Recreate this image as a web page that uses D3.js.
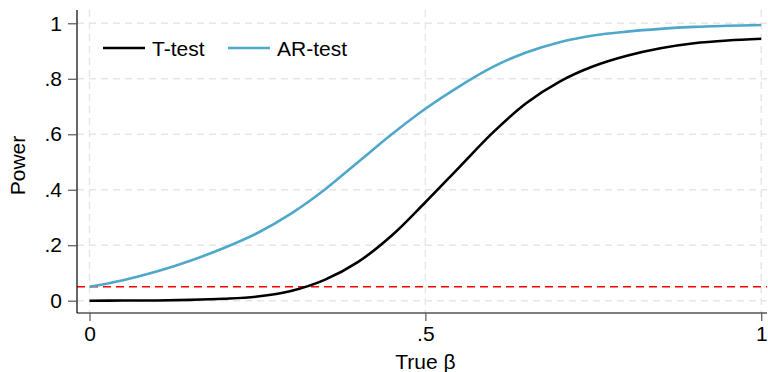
<!DOCTYPE html>
<html>
<head>
<meta charset="utf-8">
<script src="https://cdn.jsdelivr.net/npm/d3@7/dist/d3.min.js"></script>
<style>
  html, body { margin: 0; padding: 0; background: #fff; }
  svg { display: block; font-family: Arial, "Liberation Sans", Helvetica, sans-serif; }
</style>
</head>
<body>
<svg id="chart" width="768" height="372"></svg>
<script>
// True beta grid and rejection rates of each test
const beta = [0, 0.05, 0.10, 0.15, 0.20, 0.25, 0.30, 0.35, 0.40, 0.45, 0.50,
              0.55, 0.60, 0.65, 0.70, 0.75, 0.80, 0.85, 0.90, 0.95, 1.00];
const tTest = [0, 0.0005, 0.001, 0.003, 0.007, 0.015, 0.035, 0.075, 0.140, 0.235, 0.355,
               0.480, 0.605, 0.712, 0.790, 0.845, 0.883, 0.910, 0.928, 0.938, 0.944];
const arTest = [0.050, 0.074, 0.105, 0.144, 0.190, 0.244, 0.314, 0.400, 0.500, 0.600, 0.692,
                0.772, 0.842, 0.895, 0.932, 0.956, 0.970, 0.980, 0.987, 0.991, 0.994];
const nominalSize = 0.05;

const xTicks = [0, 0.5, 1];
const xTickLabels = ["0", ".5", "1"];
const yTicks = [0, 0.2, 0.4, 0.6, 0.8, 1];
const yTickLabels = ["0", ".2", ".4", ".6", ".8", "1"];

const seriesNames = ["T-test", "AR-test"];
const seriesColors = ["#000000", "#4fa7ca"];

const svg = d3.select("#chart");
const plot = { left: 77, right: 767, top: 10, bottom: 313 };
const fontSize = 21;

// Scales: data range padded slightly past [0,1] on both axes
const x = d3.scaleLinear().domain([-0.0186, 1.0086]).range([plot.left, plot.right]);
const y = d3.scaleLinear().domain([-0.0443, 1.0479]).range([plot.bottom, plot.top]);

// Grid lines
const grid = svg.append("g").attr("stroke", "#e6e6e6").attr("stroke-width", 1.4)
  .attr("stroke-dasharray", "7,5");
grid.selectAll("line.h").data(yTicks).join("line")
  .attr("x1", plot.left).attr("x2", plot.right)
  .attr("y1", d => y(d)).attr("y2", d => y(d));
grid.selectAll("line.v").data(xTicks).join("line")
  .attr("y1", plot.top).attr("y2", plot.bottom)
  .attr("x1", d => x(d)).attr("x2", d => x(d));

// Nominal size reference
svg.append("line")
  .attr("x1", plot.left).attr("x2", plot.right)
  .attr("y1", y(nominalSize)).attr("y2", y(nominalSize))
  .attr("stroke", "#ff0000").attr("stroke-width", 1.5)
  .attr("stroke-dasharray", "8,5");

// Power curves
const line = d3.line().x((d, i) => x(beta[i])).y(d => y(d))
  .curve(d3.curveCatmullRom.alpha(0.5));
[tTest, arTest].forEach((vals, k) => {
  svg.append("path").datum(vals)
    .attr("d", line)
    .attr("fill", "none")
    .attr("stroke", seriesColors[k])
    .attr("stroke-width", 2.6);
});

// Axes
const yAxis = d3.axisLeft(y).tickValues(yTicks).tickFormat((d, i) => yTickLabels[i])
  .tickSize(9).tickPadding(6).tickSizeOuter(0);
const xAxis = d3.axisBottom(x).tickValues(xTicks).tickFormat((d, i) => xTickLabels[i])
  .tickSize(8).tickPadding(5).tickSizeOuter(0);

const gy = svg.append("g").attr("transform", `translate(${plot.left},0)`).call(yAxis);
const gx = svg.append("g").attr("transform", `translate(0,${plot.bottom})`).call(xAxis);
[gx, gy].forEach(g => {
  g.select(".domain").attr("stroke", "#000").attr("stroke-width", 1.2);
  g.selectAll(".tick line").attr("stroke", "#555").attr("stroke-width", 1.2);
  g.selectAll(".tick text").attr("font-size", fontSize).attr("fill", "#000")
    .attr("font-family", "Arial, 'Liberation Sans', sans-serif");
});
// axis lines span the full plot region
gy.select(".domain").attr("d", `M0,${plot.top}V${plot.bottom}`);
gx.select(".domain").attr("d", `M${plot.left},0H${plot.right}`);

// Axis titles
svg.append("text")
  .attr("transform", `translate(25,${(plot.top + plot.bottom) / 2 + 4}) rotate(-90)`)
  .attr("text-anchor", "middle").attr("font-size", fontSize).text("Power");
svg.append("text")
  .attr("x", x(0.5)).attr("y", 369)
  .attr("text-anchor", "middle").attr("font-size", fontSize).text("True β");

// Legend
const legend = svg.append("g");
const legendX = [103, 228];
seriesNames.forEach((name, k) => {
  legend.append("line")
    .attr("x1", legendX[k]).attr("x2", legendX[k] + 42)
    .attr("y1", 48).attr("y2", 48)
    .attr("stroke", seriesColors[k]).attr("stroke-width", 2.6);
  legend.append("text")
    .attr("x", legendX[k] + 49).attr("y", 55.5)
    .attr("font-size", fontSize).text(name);
});
</script>
</body>
</html>
